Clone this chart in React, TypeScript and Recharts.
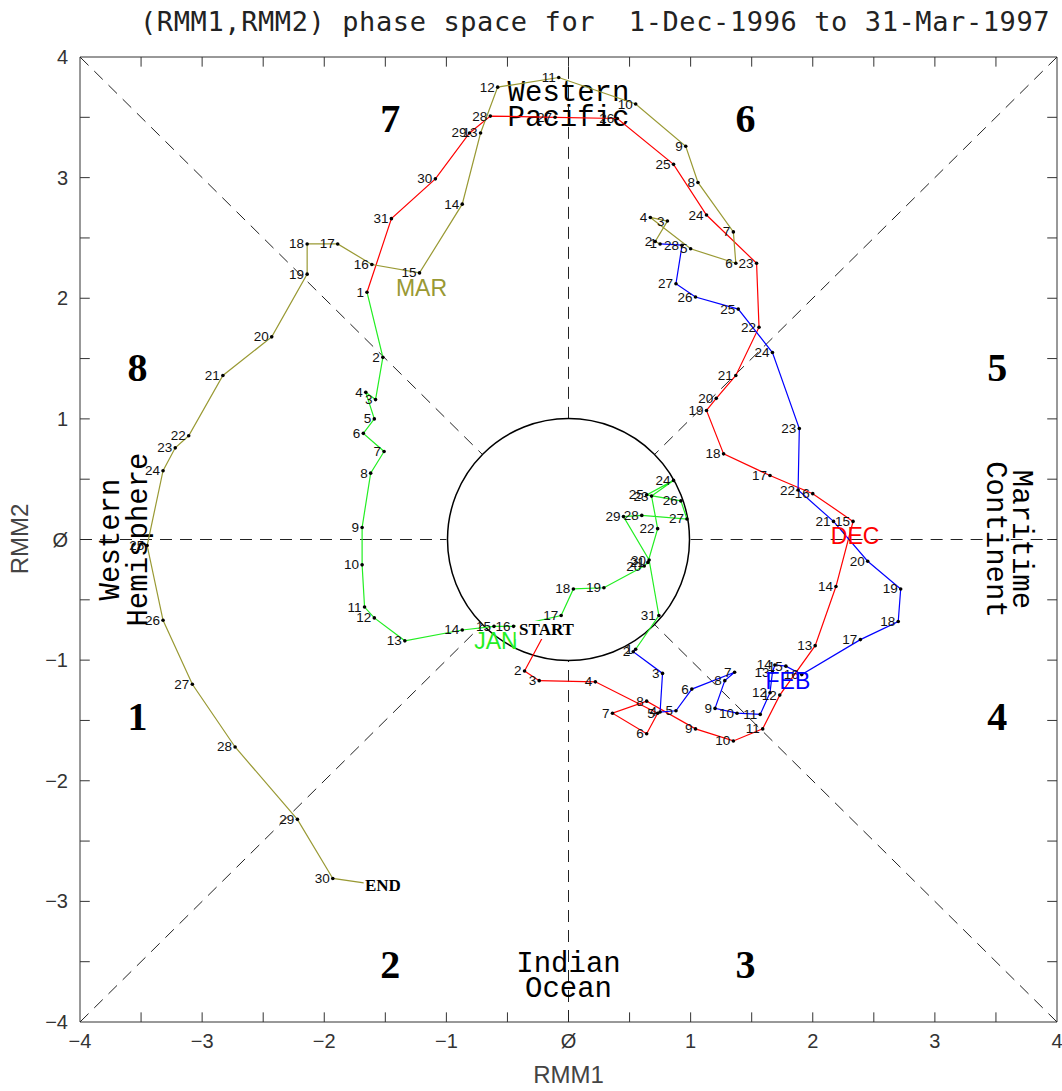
import {
  ScatterChart,
  Scatter,
  XAxis,
  YAxis,
  ReferenceLine,
  ReferenceDot,
  ReferenceArea,
} from 'recharts'

type Pt = [number, number]

// daily (RMM1, RMM2) positions, one array per month
const dec: Pt[] = [
  [-0.18, -0.75], [-0.36, -1.09], [-0.24, -1.17], [0.22, -1.18], [0.73, -1.44],
  [0.64, -1.61], [0.36, -1.44], [0.64, -1.34], [1.04, -1.57], [1.35, -1.67],
  [1.59, -1.57], [1.73, -1.29], [2.02, -0.88], [2.19, -0.39], [2.33, 0.15],
  [2.0, 0.38], [1.65, 0.53], [1.27, 0.71], [1.13, 1.07], [1.21, 1.17],
  [1.37, 1.36], [1.56, 1.76], [1.54, 2.29], [1.13, 2.69], [0.86, 3.11],
  [0.4, 3.49], [-0.11, 3.5], [-0.64, 3.51], [-0.81, 3.37], [-1.09, 2.99],
  [-1.45, 2.66],
]
const jan: Pt[] = [
  [-1.65, 2.05], [-1.52, 1.51], [-1.58, 1.16], [-1.66, 1.22], [-1.59, 1.0],
  [-1.68, 0.88], [-1.51, 0.73], [-1.62, 0.55], [-1.69, 0.1], [-1.69, -0.21],
  [-1.67, -0.56], [-1.59, -0.65], [-1.34, -0.84], [-0.87, -0.75], [-0.61, -0.72],
  [-0.45, -0.72], [-0.06, -0.63], [0.04, -0.41], [0.29, -0.4], [0.62, -0.22],
  [0.65, -0.19], [0.73, 0.09], [0.68, 0.36], [0.86, 0.49], [0.64, 0.37],
  [0.92, 0.32], [0.97, 0.17], [0.6, 0.2], [0.45, 0.19], [0.66, -0.17],
  [0.74, -0.63],
]
const feb: Pt[] = [
  [0.55, -0.91], [0.53, -0.93], [0.77, -1.11], [0.75, -1.43], [0.88, -1.42],
  [1.01, -1.24], [1.36, -1.1], [1.28, -1.17], [1.2, -1.4], [1.38, -1.44],
  [1.57, -1.45], [1.65, -1.27], [1.67, -1.1], [1.69, -1.04], [1.78, -1.05],
  [1.91, -1.12], [2.39, -0.83], [2.7, -0.68], [2.72, -0.41], [2.45, -0.18],
  [2.17, 0.15], [1.88, 0.41], [1.89, 0.92], [1.67, 1.55], [1.39, 1.91],
  [1.04, 2.01], [0.88, 2.12], [0.93, 2.44],
]
const mar: Pt[] = [
  [0.75, 2.45], [0.71, 2.47], [0.81, 2.64], [0.67, 2.67], [1.0, 2.41],
  [1.37, 2.29], [1.35, 2.55], [1.06, 2.96], [0.96, 3.26], [0.55, 3.61],
  [-0.08, 3.83], [-0.58, 3.75], [-0.72, 3.37], [-0.87, 2.78], [-1.22, 2.21],
  [-1.61, 2.28], [-1.89, 2.45], [-2.14, 2.45], [-2.14, 2.2], [-2.43, 1.68],
  [-2.83, 1.36], [-3.11, 0.86], [-3.22, 0.76], [-3.32, 0.57], [-3.45, -0.05],
  [-3.32, -0.67], [-3.08, -1.2], [-2.73, -1.72], [-2.22, -2.32], [-1.93, -2.81],
  [-1.52, -2.87],
]

const monthNames = ['DEC', 'JAN', 'FEB', 'MAR']
const monthColors = ['#ff0000', '#22ee22', '#0000ff', '#999933']
const months = [dec, jan, feb, mar]

const axisTicks = [-4, -3, -2, -1, 0, 1, 2, 3, 4]
const minorTicks = [-3.5, -3, -2.5, -2, -1.5, -1, -0.5, 0, 0.5, 1, 1.5, 2, 2.5, 3, 3.5]

const phaseNames = ['1', '2', '3', '4', '5', '6', '7', '8']
const phaseX = [-3.53, -1.46, 1.45, 3.51, 3.51, 1.45, -1.46, -3.53]
const phaseY = [-1.47, -3.52, -3.52, -1.47, 1.43, 3.49, 3.49, 1.43]

const regionText = ['Western', 'Pacific', 'Indian', 'Ocean', 'Western', 'Hemisphere', 'Maritime', 'Continent']
const regionX = [0, 0, 0, 0, -3.74, -3.51, 3.7, 3.49]
const regionY = [3.7, 3.49, -3.52, -3.73, 0, 0, 0, 0]
const regionAngle = [0, 0, 0, 0, -90, -90, 90, 90]

const TICK_LEN = 0.08
const DIAG = Math.SQRT1_2

// line for each month runs on to the first day of the next one
const lineData = months.map((m, i) => {
  const pts = i < months.length - 1 ? [...m, months[i + 1][0]] : m
  return pts.map(([x, y]) => ({ x, y }))
})

const allDays: { x: number; y: number; day: number; edge: boolean }[] = []
months.forEach((m, i) =>
  m.forEach(([x, y], d) =>
    allDays.push({
      x,
      y,
      day: d + 1,
      edge: (i === 0 && d === 0) || (i === months.length - 1 && d === m.length - 1),
    }),
  ),
)

const monthLabels = months.map((m, i) => ({ x: m[14][0], y: m[14][1], text: monthNames[i], color: monthColors[i] }))
const phaseData = phaseNames.map((t, i) => ({ x: phaseX[i], y: phaseY[i], text: t }))
const regionData = regionText.map((t, i) => ({ x: regionX[i], y: regionY[i], text: t, angle: regionAngle[i] }))
const startEnd = [
  { x: dec[0][0], y: dec[0][1], text: 'START' },
  { x: mar[mar.length - 1][0], y: mar[mar.length - 1][1], text: 'END' },
]

const fmt = (v: number) => (v === 0 ? 'Ø' : v < 0 ? `−${Math.abs(v)}` : `${v}`)

const Empty = () => <g />

function DayDot(props: any) {
  const { cx, cy, payload } = props
  if (payload.edge) return <g />
  return (
    <g>
      <circle cx={cx} cy={cy} r={1.8} fill="#000" />
      <text
        x={cx - 3}
        y={cy}
        textAnchor="end"
        dominantBaseline="central"
        fontSize={13.5}
        fontFamily="Liberation Sans, Arial, sans-serif"
        fill="#111"
      >
        {payload.day}
      </text>
    </g>
  )
}

function MonthLabel(props: any) {
  const { cx, cy, payload } = props
  return (
    <text
      x={cx + 2}
      y={cy + 15}
      textAnchor="middle"
      dominantBaseline="central"
      fontSize={23}
      fontFamily="Liberation Sans, Arial, sans-serif"
      fill={payload.color}
    >
      {payload.text}
    </text>
  )
}

function PhaseLabel(props: any) {
  const { cx, cy, payload } = props
  return (
    <text
      x={cx}
      y={cy}
      textAnchor="middle"
      dominantBaseline="central"
      fontSize={40}
      fontWeight="bold"
      fontFamily="Liberation Serif, Times New Roman, serif"
      fill="#000"
    >
      {payload.text}
    </text>
  )
}

function RegionLabel(props: any) {
  const { cx, cy, payload } = props
  return (
    <text
      x={cx}
      y={cy}
      transform={`rotate(${payload.angle} ${cx} ${cy})`}
      textAnchor="middle"
      dominantBaseline="central"
      fontSize={29}
      fontFamily="Liberation Mono, Courier New, monospace"
      fill="#000"
    >
      {payload.text}
    </text>
  )
}

function EndLabel(props: any) {
  const { cx, cy, payload } = props
  const w = payload.text.length * 11.5 + 4
  return (
    <g>
      <rect x={cx - w / 2} y={cy - 9} width={w} height={18} fill="#fff" />
      <text
        x={cx}
        y={cy}
        textAnchor="middle"
        dominantBaseline="central"
        fontSize={17}
        fontWeight="bold"
        fontFamily="Liberation Serif, Times New Roman, serif"
        fill="#000"
      >
        {payload.text}
      </text>
    </g>
  )
}

export default function App() {
  const dash = { stroke: '#222', strokeDasharray: '12 8', strokeWidth: 1 }
  return (
    <div style={{ position: 'relative', width: 1062, height: 1091, background: '#fff' }}>
      <style>{'body{margin:0}'}</style>
      <div
        style={{
          position: 'absolute',
          left: 140,
          top: 6,
          fontFamily: 'DejaVu Sans Mono, monospace',
          fontSize: 27,
          letterSpacing: 0.6,
          whiteSpace: 'pre',
          color: '#222',
        }}
      >
        {'(RMM1,RMM2) phase space for  1-Dec-1996 to 31-Mar-1997'}
      </div>
      <div
        style={{
          position: 'absolute',
          left: 80,
          width: 977,
          top: 1061,
          textAlign: 'center',
          fontFamily: 'Liberation Sans, Arial, sans-serif',
          fontSize: 24,
          color: '#444',
        }}
      >
        RMM1
      </div>
      <div
        style={{
          position: 'absolute',
          left: -30,
          top: 525,
          width: 100,
          textAlign: 'center',
          transform: 'rotate(-90deg)',
          fontFamily: 'Liberation Sans, Arial, sans-serif',
          fontSize: 24,
          color: '#444',
        }}
      >
        RMM2
      </div>
      <ScatterChart width={1062} height={1091} margin={{ top: 57, right: 5, bottom: 0, left: 0 }}>
        <XAxis
          type="number"
          dataKey="x"
          domain={[-4, 4]}
          ticks={axisTicks}
          tickFormatter={fmt}
          allowDataOverflow
          height={69}
          axisLine={false}
          tickLine={false}
          tickSize={6}
          tickMargin={6}
          tick={{ fontSize: 20, fill: '#333', fontFamily: 'Liberation Sans, Arial, sans-serif' }}
        />
        <YAxis
          type="number"
          dataKey="y"
          domain={[-4, 4]}
          ticks={axisTicks}
          tickFormatter={fmt}
          allowDataOverflow
          width={80}
          axisLine={false}
          tickLine={false}
          tickSize={6}
          tickMargin={6}
          tick={{ fontSize: 20, fill: '#333', fontFamily: 'Liberation Sans, Arial, sans-serif' }}
        />
        <ReferenceArea x1={-4} x2={4} y1={-4} y2={4} fill="none" fillOpacity={0} stroke="#333" strokeWidth={1} />
        {minorTicks.map((t) => (
          <ReferenceLine key={`b${t}`} segment={[{ x: t, y: -4 }, { x: t, y: -4 + TICK_LEN }]} stroke="#333" />
        ))}
        {minorTicks.map((t) => (
          <ReferenceLine key={`t${t}`} segment={[{ x: t, y: 4 }, { x: t, y: 4 - TICK_LEN }]} stroke="#333" />
        ))}
        {minorTicks.map((t) => (
          <ReferenceLine key={`l${t}`} segment={[{ x: -4, y: t }, { x: -4 + TICK_LEN, y: t }]} stroke="#333" />
        ))}
        {minorTicks.map((t) => (
          <ReferenceLine key={`r${t}`} segment={[{ x: 4, y: t }, { x: 4 - TICK_LEN, y: t }]} stroke="#333" />
        ))}
        <ReferenceLine segment={[{ x: -4, y: 0 }, { x: -1, y: 0 }]} {...dash} />
        <ReferenceLine segment={[{ x: 1, y: 0 }, { x: 4, y: 0 }]} {...dash} />
        <ReferenceLine segment={[{ x: 0, y: 1 }, { x: 0, y: 4 }]} {...dash} />
        <ReferenceLine segment={[{ x: 0, y: -4 }, { x: 0, y: -1 }]} {...dash} />
        <ReferenceLine segment={[{ x: -4, y: -4 }, { x: -DIAG, y: -DIAG }]} {...dash} />
        <ReferenceLine segment={[{ x: 4, y: 4 }, { x: DIAG, y: DIAG }]} {...dash} />
        <ReferenceLine segment={[{ x: -4, y: 4 }, { x: -DIAG, y: DIAG }]} {...dash} />
        <ReferenceLine segment={[{ x: 4, y: -4 }, { x: DIAG, y: -DIAG }]} {...dash} />
        <ReferenceDot x={0} y={0} r={121} fill="none" fillOpacity={0} stroke="#000" strokeWidth={1.5} />

        <Scatter data={regionData} shape={RegionLabel} isAnimationActive={false} />
        <Scatter data={phaseData} shape={PhaseLabel} isAnimationActive={false} />
        {lineData.map((d, i) => (
          <Scatter
            key={monthNames[i]}
            data={d}
            line={{ stroke: monthColors[i], strokeWidth: 1.2 }}
            lineType="joint"
            shape={Empty}
            isAnimationActive={false}
          />
        ))}
        <Scatter data={allDays} shape={DayDot} isAnimationActive={false} />
        <Scatter data={monthLabels} shape={MonthLabel} isAnimationActive={false} />
        <Scatter data={startEnd} shape={EndLabel} isAnimationActive={false} />
      </ScatterChart>
    </div>
  )
}
